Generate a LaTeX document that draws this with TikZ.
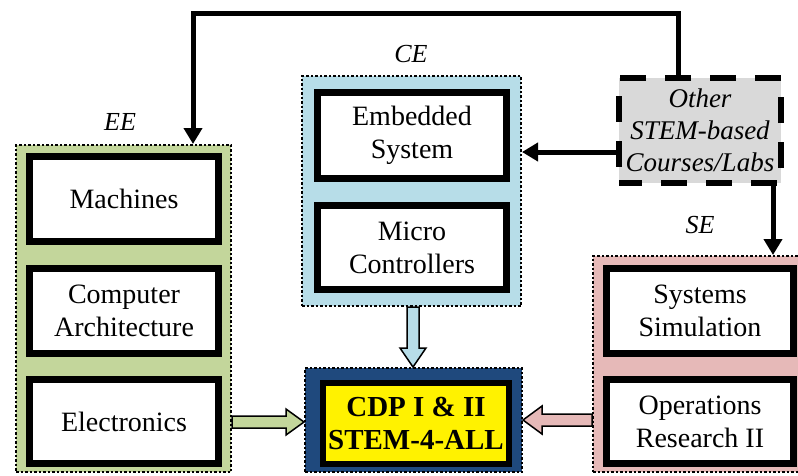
\documentclass[tikz,border=0pt]{standalone}
\usepackage{fontspec}
\setmainfont{Liberation Serif}
\usetikzlibrary{arrows.meta,calc}
\definecolor{eegreen}{HTML}{C3D69B}
\definecolor{ceblue}{HTML}{B7DDE8}
\definecolor{sepink}{HTML}{E6B9B8}
\definecolor{cdpblue}{HTML}{1F497D}
\definecolor{othergray}{HTML}{D9D9D9}
\begin{document}
\begin{tikzpicture}[x=1pt,y=-1pt,
  container/.style={draw, line width=2pt, dash pattern=on 2.5pt off 2pt, outer sep=1pt, inner sep=0pt},
  course/.style={draw, fill=white, line width=7pt, outer sep=3.5pt, inner sep=0pt, align=center, font=\fontsize{28}{33}\selectfont},
  grouplabel/.style={font=\itshape\fontsize{26}{30}\selectfont, inner sep=0pt},
  conn/.style={line width=5pt, -{Triangle[length=16pt,width=18pt]}},
  barrow/.style={draw, line width=1.5pt, line join=miter}
]
\useasboundingbox (0,0) rectangle (798,475);
\clip (0,0) rectangle (798,475);

% containers
\node[container, fill=eegreen, minimum width=215pt, minimum height=327pt] (ee) at (123.5,308.5) {};
\node[container, fill=ceblue, minimum width=219pt, minimum height=230pt] (ce) at (411.5,191) {};
\node[container, fill=sepink, minimum width=226pt, minimum height=216pt] (se) at (706,364) {};
\node[container, fill=cdpblue, minimum width=217pt, minimum height=104pt] (cdpc) at (413.5,420) {};

% group labels
\node[grouplabel] (eel) at (120,122) {EE};
\node[grouplabel] (cel) at (411,54) {CE};
\node[grouplabel] (sel) at (700,225) {SE};

% course boxes
\node[course, minimum width=189pt, minimum height=85pt] (mach) at (124,199) {Machines};
\node[course, minimum width=189pt, minimum height=85pt] (arch) at (124,311) {Computer\\Architecture};
\node[course, minimum width=189pt, minimum height=84pt] (elec) at (124,421.5) {Electronics};
\node[course, minimum width=189pt, minimum height=86pt] (emb) at (412,135.5) {Embedded\\System};
\node[course, minimum width=189pt, minimum height=84pt] (micro) at (412,247.5) {Micro\\Controllers};
\node[course, minimum width=187pt, minimum height=85pt] (sim) at (700,311) {Systems\\Simulation};
\node[course, minimum width=187pt, minimum height=84pt] (ops) at (700,421.5) {Operations\\Research II};

% CDP box
\node[draw, fill=yellow, line width=6pt, outer sep=3pt, inner sep=0pt, align=center,
      font=\bfseries\fontsize{29}{33}\selectfont,
      minimum width=186pt, minimum height=81pt] (cdp) at (416,423.5) {CDP I \& II\\STEM-4-ALL};

% other courses
\node[draw, fill=othergray, line width=6pt, dash pattern=on 26pt off 19pt, dash phase=3pt,
      outer sep=3pt, inner sep=0pt, align=center, font=\itshape\fontsize{27}{32}\selectfont,
      minimum width=162pt, minimum height=105pt] (other) at (700,130.5) {Other\\STEM-based\\Courses/Labs};

% connectors
\coordinate (c1) at (678,13);
\coordinate (c2) at (193,13);
\coordinate (c3) at (0,152);
\coordinate (c4) at (773,0);
\draw[conn] (other.north -| c1) -- (c1) -- (c2) -- (ee.north -| c2);
\draw[conn] (other.west |- c3) -- (ce.east |- c3);
\draw[conn] (other.south -| c4) -- (se.north -| c4);

% block arrows
\coordinate (gy) at (0,422);
\coordinate (py) at (0,420);
\coordinate (bx) at (413,0);
\coordinate (ga) at (ee.east |- gy);
\coordinate (gb) at (cdpc.west |- gy);
\coordinate (pa) at (se.west |- py);
\coordinate (pb) at (cdpc.east |- py);
\coordinate (ba) at (ce.south -| bx);
\coordinate (bb) at (cdpc.north -| bx);
\draw[barrow, fill=eegreen] ($(ga)+(0,-6)$) -- ($(gb)+(-18,-6)$) -- ($(gb)+(-18,-13)$) -- (gb)
  -- ($(gb)+(-18,13)$) -- ($(gb)+(-18,6)$) -- ($(ga)+(0,6)$) -- cycle;
\draw[barrow, fill=sepink] ($(pa)+(0,-6)$) -- ($(pb)+(19,-6)$) -- ($(pb)+(19,-14)$) -- (pb)
  -- ($(pb)+(19,14)$) -- ($(pb)+(19,6)$) -- ($(pa)+(0,6)$) -- cycle;
\draw[barrow, fill=ceblue] ($(ba)+(-6,0)$) -- ($(bb)+(-6,-19)$) -- ($(bb)+(-13,-19)$) -- (bb)
  -- ($(bb)+(13,-19)$) -- ($(bb)+(6,-19)$) -- ($(ba)+(6,0)$) -- cycle;
\end{tikzpicture}
\end{document}
